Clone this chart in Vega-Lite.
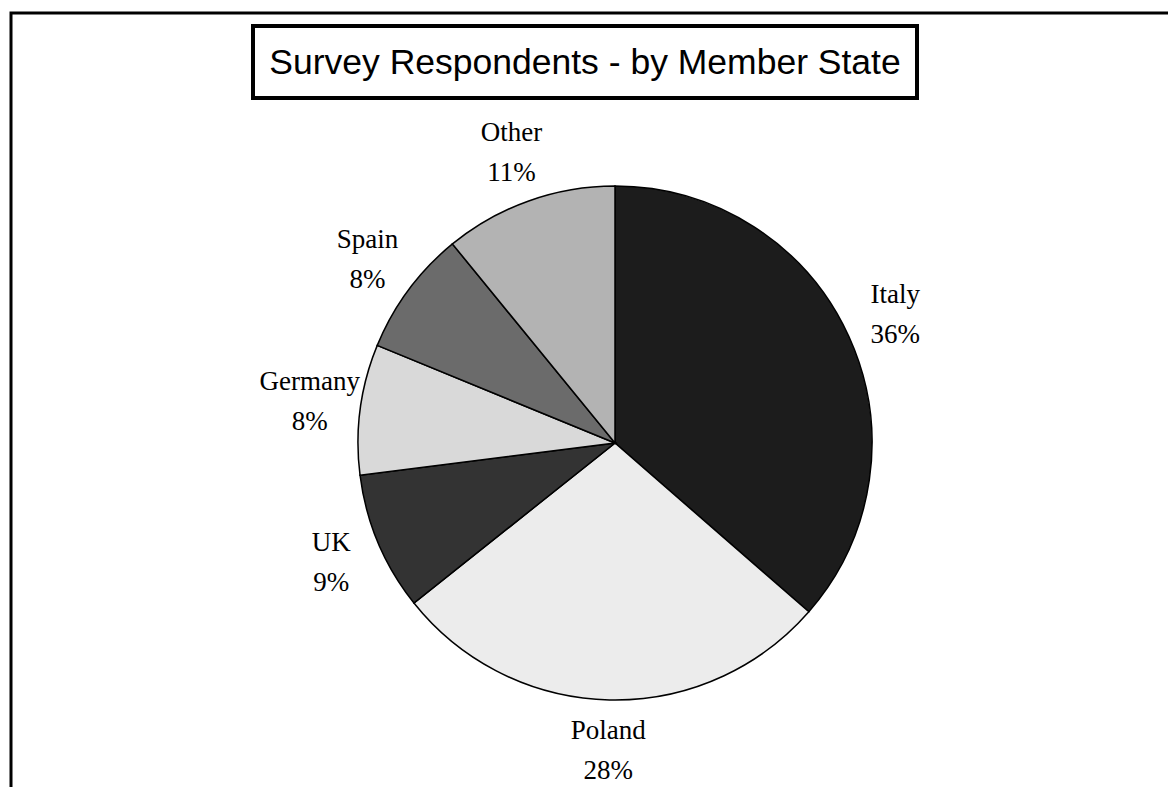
{
  "$schema": "https://vega.github.io/schema/vega-lite/v6.json",
  "width": 1168,
  "height": 787,
  "autosize": {"type": "fit", "contains": "padding"},
  "padding": {"left": 9, "top": 11, "right": -10, "bottom": -10},
  "background": "white",
  "config": {"view": {"stroke": null}},
  "datasets": {
    "states": [
      {"state": "Italy", "share": 36.4, "order": 1},
      {"state": "Poland", "share": 27.9, "order": 2},
      {"state": "UK", "share": 8.7, "order": 3},
      {"state": "Germany", "share": 8.2, "order": 4},
      {"state": "Spain", "share": 7.9, "order": 5},
      {"state": "Other", "share": 10.9, "order": 6}
    ]
  },
  "layer": [
    {
      "data": {"values": [{"frame": 1}]},
      "mark": {"type": "rect", "x": 0, "x2": {"expr": "width"}, "y": 0, "y2": {"expr": "height"}, "fill": null, "stroke": "black", "strokeWidth": 3},
      "encoding": {}
    },
    {
      "data": {"values": [{"title": "Survey Respondents - by Member State"}]},
      "mark": {"type": "rect", "x": 242, "x2": 906, "y": 13, "y2": 85, "fill": "white", "stroke": "black", "strokeWidth": 4},
      "encoding": {}
    },
    {
      "data": {"values": [{"title": "Survey Respondents - by Member State"}]},
      "mark": {"type": "text", "x": 574, "y": 50, "font": "Liberation Sans", "fontSize": 35.5, "align": "center", "baseline": "middle", "color": "black"},
      "encoding": {"text": {"field": "title"}}
    },
    {
      "data": {"name": "states"},
      "mark": {"type": "arc", "outerRadius": 257, "x": 604, "y": 430, "stroke": "black", "strokeWidth": 1.5},
      "encoding": {
        "theta": {"field": "share", "type": "quantitative", "stack": true},
        "order": {"field": "order", "type": "quantitative"},
        "color": {
          "field": "state", "type": "nominal", "legend": null,
          "scale": {"domain": ["Italy", "Poland", "UK", "Germany", "Spain", "Other"], "range": ["#1c1c1c", "#ececec", "#333333", "#d9d9d9", "#6b6b6b", "#b3b3b3"]}
        }
      }
    },
    {
      "data": {"name": "states"},
      "transform": [{"calculate": "[datum.state, format(datum.share/100, '.0%')]", "as": "lbl"}],
      "mark": {"type": "text", "radius": 308, "x": 604, "y": 430, "dy": -20, "font": "Liberation Serif", "fontSize": 27, "lineHeight": 40, "align": "center", "baseline": "middle", "color": "black"},
      "encoding": {
        "theta": {"field": "share", "type": "quantitative", "stack": true},
        "order": {"field": "order", "type": "quantitative"},
        "text": {"field": "lbl"}
      }
    }
  ]
}
